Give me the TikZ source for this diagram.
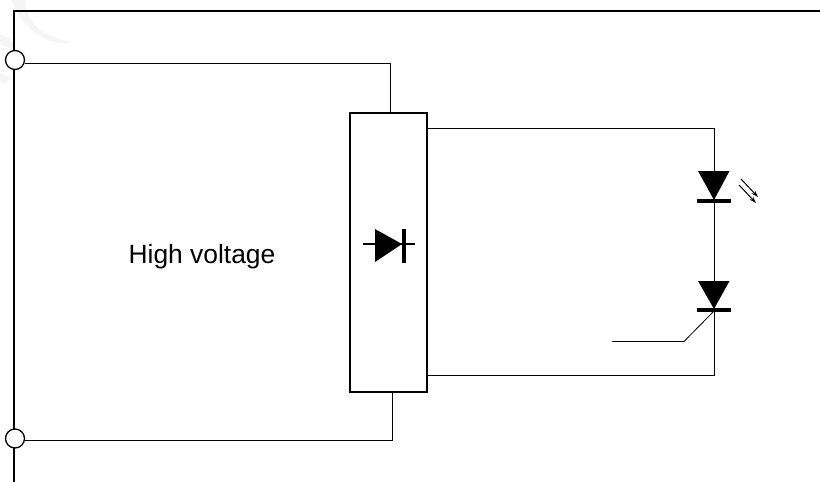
\documentclass[tikz,border=0pt]{standalone}
\usepackage{fontspec}
\setmainfont{Liberation Sans}
\usetikzlibrary{arrows.meta}
\tikzset{
  wire/.style={draw=black,line width=0.8pt},
  heavy/.style={draw=black,line width=1.6pt},
  terminal/.style={circle,draw=black,line width=1.3pt,fill=white,minimum size=19pt,inner sep=0pt},
  blackfill/.style={fill=black,draw=none},
  lightray/.style={draw=black,line width=1pt,-{Stealth[length=7pt,width=4.5pt]}},
  mainbox/.style={rectangle,draw=black,line width=1.5pt,fill=white,minimum width=77pt,minimum height=279pt,inner sep=0pt},
  label/.style={inner sep=0pt,font=\fontsize{26.4}{30}\selectfont},
  wm/.style={fill=black!4,draw=none}
}
\begin{document}
\begin{tikzpicture}[x=1pt,y=-1pt]
\useasboundingbox (0,0) rectangle (820,482);
% faint watermark
\fill[wm] (12,0) .. controls (20,25) and (45,48) .. (73,42) .. controls (40,38) and (25,20) .. (25,0) -- cycle;
\fill[wm] (0,34) -- (14,42) -- (14,50) -- (0,44) -- cycle;
\fill[wm] (0,72) -- (10,78) -- (4,84) -- (0,82) -- cycle;
% frame
\coordinate (tr) at (820,11);
\coordinate (tl) at (14,11);
\coordinate (bl) at (14,482);
\draw[heavy] (tr) -- (tl) -- (bl);
\node[terminal] (t1) at (15,60) {};
\node[terminal] (t2) at (15,438.5) {};
\node[mainbox] (box) at (388.5,252.5) {};
% wires
\coordinate (c1) at (390.5,63.5);
\coordinate (c2) at (392.5,440.5);
\coordinate (b1) at (390.5,113);
\coordinate (b2) at (392.5,392);
\draw[wire] (t1.east |- c1) -- (c1) -- (b1);
\draw[wire] (t2.east |- c2) -- (c2) -- (b2);
\coordinate (r1) at (427,128.5);
\coordinate (r2) at (714,128.5);
\coordinate (r3) at (714,375.5);
\coordinate (r4) at (427,375.5);
\draw[wire] (r1) -- (r2) -- (r3) -- (r4);
% LED
\fill[blackfill] (698,171) -- (729.5,171) -- (714,200) -- cycle;
\fill[blackfill] (697,199) rectangle (731,203);
\coordinate (a1s) at (741,179);
\coordinate (a1e) at (758,197);
\coordinate (a2s) at (739,185);
\coordinate (a2e) at (756,203);
\draw[lightray] (a1s) -- (a1e);
\draw[lightray] (a2s) -- (a2e);
% thyristor
\fill[blackfill] (698,281) -- (729.5,281) -- (714,309) -- cycle;
\fill[blackfill] (697,308) rectangle (731,312);
\coordinate (g0) at (714,311);
\coordinate (g1) at (684,341.5);
\coordinate (g2) at (612,341.5);
\draw[wire] (g0) -- (g1) -- (g2);
% diode in box
\coordinate (d1) at (363,244);
\coordinate (d2) at (415,244);
\draw[line width=1.6pt] (d1) -- (d2);
\fill[blackfill] (375,229) -- (402,244) -- (375,262) -- cycle;
\fill[blackfill] (402,229) rectangle (406,263);
% label
\node[label] (hv) at (202,257) {High voltage};
\end{tikzpicture}
\end{document}
